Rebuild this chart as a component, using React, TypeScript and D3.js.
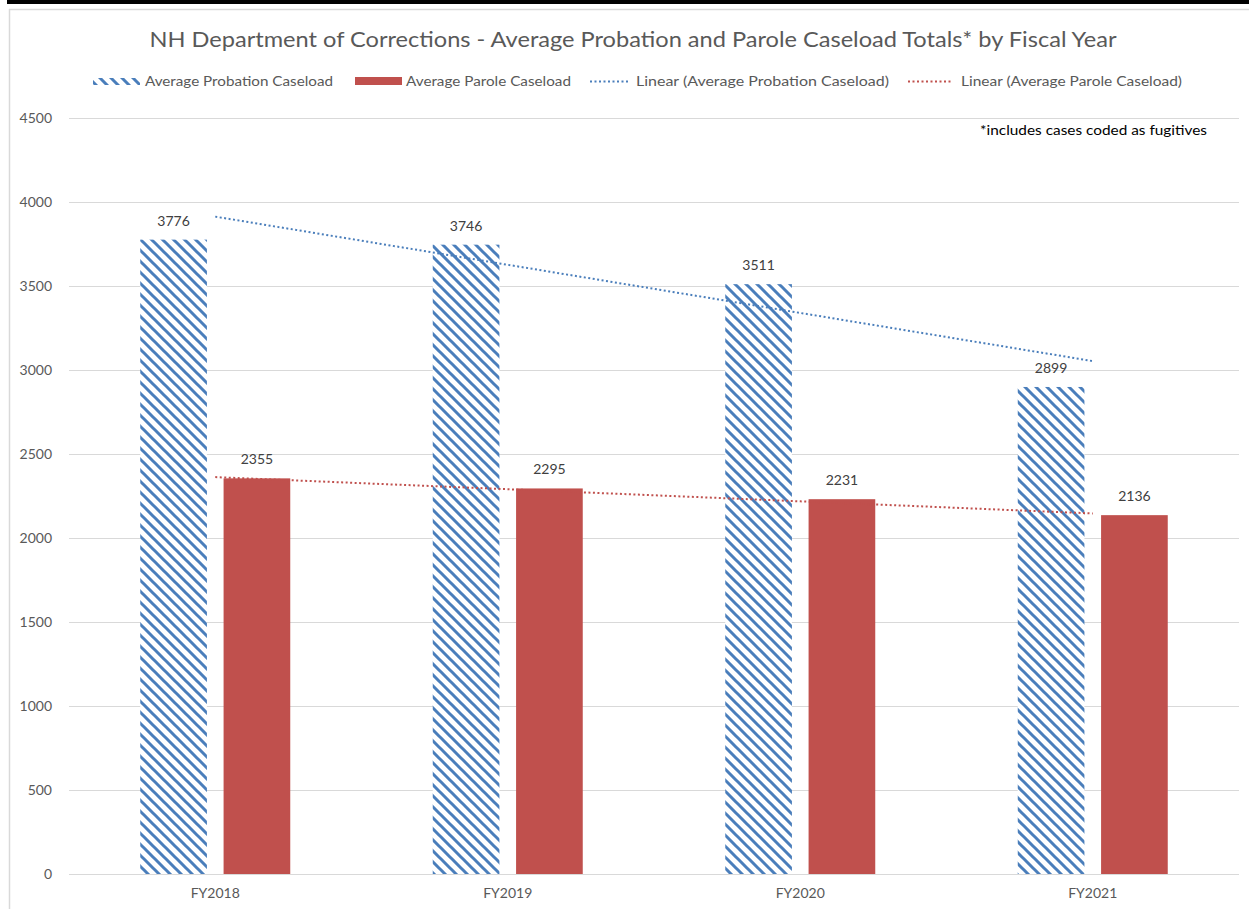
import React from "react";
import * as d3 from "d3";

const categories = ["FY2018", "FY2019", "FY2020", "FY2021"];
const probation = [3776, 3746, 3511, 2899];
const parole = [2355, 2295, 2231, 2136];
const yTicks = [0, 500, 1000, 1500, 2000, 2500, 3000, 3500, 4000, 4500];
const seriesNames = ["Average Probation Caseload", "Average Parole Caseload"];
const titleText = "NH Department of Corrections - Average Probation and Parole Caseload Totals* by Fiscal Year";
const noteText = "*includes cases coded as fugitives";

const W = 1249;
const H = 909;
const BLUE = "#4A7EBB";
const RED = "#C0504D";
const FONT = "Lato, 'Open Sans', sans-serif";

function linFit(vals: number[]) {
  const xs = vals.map((_, i) => i + 1);
  const mx = d3.mean(xs) as number;
  const my = d3.mean(vals) as number;
  let sxy = 0, sxx = 0;
  xs.forEach((x, i) => { sxy += (x - mx) * (vals[i] - my); sxx += (x - mx) * (x - mx); });
  const b = sxy / sxx;
  const a = my - b * mx;
  return xs.map((x) => a + b * x);
}

export default function App() {
  const x0 = d3.scaleBand<string>().domain(categories).range([69, 1239]).padding(0);
  const bw = x0.bandwidth();
  const groupW = 150;
  const x1 = d3.scaleBand<string>().domain(seriesNames)
    .range([(bw - groupW) / 2, (bw + groupW) / 2]).paddingInner(0.2).paddingOuter(0);
  const y = d3.scaleLinear().domain([0, 4500]).range([874, 118]);

  const trendP = linFit(probation);
  const trendR = linFit(parole);
  const line = d3.line<[number, number]>().x((d) => d[0]).y((d) => d[1]);
  const cx = (c: string) => (x0(c) as number) + bw / 2;
  const trendPPath = line(categories.map((c, i) => [cx(c), y(trendP[i])]));
  const trendRPath = line(categories.map((c, i) => [cx(c), y(trendR[i])]));

  const textGray = "#595959";
  const labelGray = "#404040";

  return (
    <svg width={W} height={H} style={{ position: "absolute", left: 0, top: 0, background: "#fff" }} fontFamily={FONT}>
      <defs>
        <pattern id="hatch" patternUnits="userSpaceOnUse" width={11} height={11}>
          <rect width={11} height={11} fill="#fff" />
          <path d="M-2,-2 L13,13 M-2,9 L2,13 M9,-2 L13,2" stroke={BLUE} strokeWidth={3} />
        </pattern>
      </defs>
      <rect x={0} y={0} width={W} height={H} fill="#fff" />
      {/* frame */}
      <rect x={7} y={0} width={W} height={4} fill="#000" />
      <line x1={9.5} y1={9} x2={9.5} y2={H} stroke="#d9d9d9" strokeWidth={1.5} />
      <line x1={9} y1={9.5} x2={W} y2={9.5} stroke="#d9d9d9" strokeWidth={1.5} />

      {/* title */}
      <text x={633} y={47} textAnchor="middle" fontSize={21} fill={textGray} textLength={967} lengthAdjust="spacingAndGlyphs">{titleText}</text>

      {/* legend */}
      <g fontSize={13.5} fill={textGray}>
        <rect x={93} y={78} width={47} height={7} fill="url(#hatch)" />
        <text x={145} y={86} textLength={188} lengthAdjust="spacingAndGlyphs">{seriesNames[0]}</text>
        <rect x={355} y={77} width={47} height={8} fill={RED} />
        <text x={406} y={86} textLength={165} lengthAdjust="spacingAndGlyphs">{seriesNames[1]}</text>
        <line x1={590} y1={81.5} x2={630} y2={81.5} stroke={BLUE} strokeWidth={2} strokeDasharray="2 2.5" />
        <text x={636} y={86} textLength={253} lengthAdjust="spacingAndGlyphs">{`Linear (${seriesNames[0]})`}</text>
        <line x1={908} y1={81.5} x2={953} y2={81.5} stroke={RED} strokeWidth={2} strokeDasharray="2 2.5" />
        <text x={961} y={86} textLength={221} lengthAdjust="spacingAndGlyphs">{`Linear (${seriesNames[1]})`}</text>
      </g>

      {/* gridlines and y ticks */}
      {yTicks.map((t) => (
        <g key={t}>
          <line x1={69} x2={1239} y1={Math.round(y(t)) + 0.5} y2={Math.round(y(t)) + 0.5} stroke="#d9d9d9" strokeWidth={1} />
          <text x={52} y={y(t) + 5} textAnchor="end" fontSize={14} fill={textGray}>{t}</text>
        </g>
      ))}

      {/* note */}
      <text x={980} y={135} fontSize={13} fill="#000" textLength={227} lengthAdjust="spacingAndGlyphs">{noteText}</text>

      {/* bars */}
      {categories.map((c, i) => {
        const gx = x0(c) as number;
        const px = gx + (x1(seriesNames[0]) as number);
        const rx = gx + (x1(seriesNames[1]) as number);
        const b = x1.bandwidth();
        return (
          <g key={c}>
            <rect x={px} y={y(probation[i])} width={b} height={y(0) - y(probation[i])} fill="url(#hatch)" />
            <rect x={rx} y={y(parole[i])} width={b} height={y(0) - y(parole[i])} fill={RED} />
            <text x={px + b / 2} y={y(probation[i]) - 14} textAnchor="middle" fontSize={14} fill={labelGray}>{probation[i]}</text>
            <text x={rx + b / 2} y={y(parole[i]) - 14} textAnchor="middle" fontSize={14} fill={labelGray}>{parole[i]}</text>
            <text x={cx(c)} y={898} textAnchor="middle" fontSize={14} fill={textGray}>{c}</text>
          </g>
        );
      })}

      {/* trendlines */}
      <path d={trendPPath as string} fill="none" stroke={BLUE} strokeWidth={2} strokeDasharray="2 2.5" />
      <path d={trendRPath as string} fill="none" stroke={RED} strokeWidth={2} strokeDasharray="2 2.5" />
    </svg>
  );
}
